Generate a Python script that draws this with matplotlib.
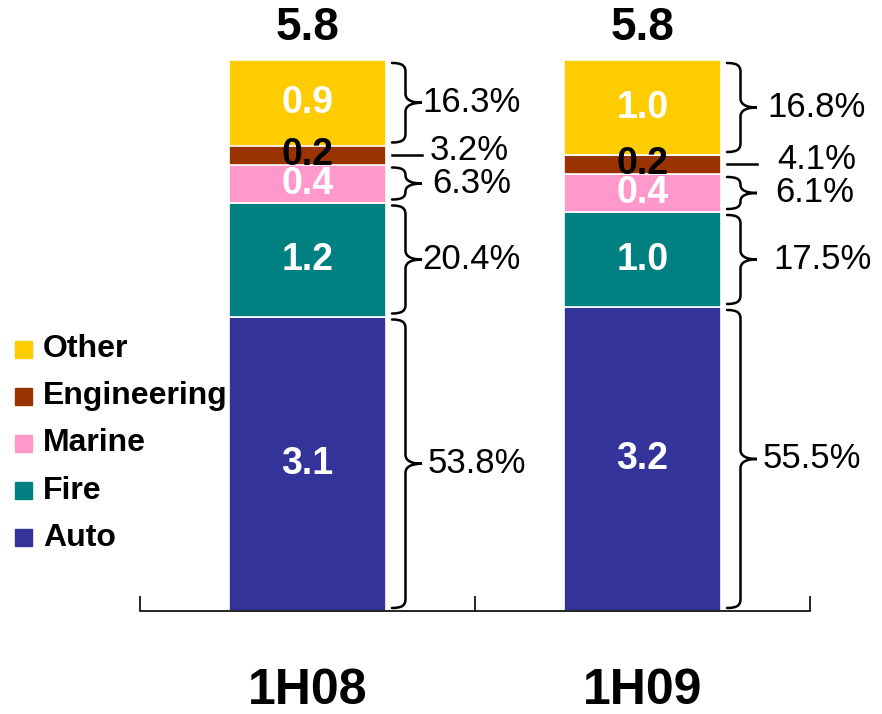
import matplotlib
matplotlib.use('Agg')
import matplotlib.pyplot as plt
from matplotlib.path import Path
from matplotlib.patches import PathPatch, Rectangle

plt.rcParams['font.family'] = ['Liberation Sans', 'DejaVu Sans']

# Gross premiums by line of business, two half-years
periods = ['1H08', '1H09']
segments = ['Auto', 'Fire', 'Marine', 'Engineering', 'Other']
auto = [3.1, 3.2]
fire = [1.2, 1.0]
marine = [0.4, 0.4]
engineering = [0.2, 0.2]
other = [0.9, 1.0]
auto_share = ['53.8%', '55.5%']
fire_share = ['20.4%', '17.5%']
marine_share = ['6.3%', '6.1%']
engineering_share = ['3.2%', '4.1%']
other_share = ['16.3%', '16.8%']

colors = ['#333399', '#008080', '#FF99CC', '#993300', '#FFCC00']
value_colors = ['white', 'white', 'white', 'black', 'white']
# extra gap (px) between brace tip and share label, per segment and period
label_gap = [[6, -4], [0, 6], [10, 8], [0, 0], [0, 0]]

W, H = 882, 714
fig = plt.figure(figsize=(W / 100, H / 100), dpi=100)
ax = fig.add_axes([140 / W, 103 / H, 670 / W, 608 / H])
ax.set_xlim(-0.5, 1.5)
ax.set_ylim(0, 6.4)
# pixels per data unit
sx = 670 / 2.0
sy = 608 / 6.4

stacks = [auto, fire, marine, engineering, other]
shares = [auto_share, fire_share, marine_share, engineering_share, other_share]
bar_w = 157 / sx


def brace(x_left, y0, y1, width):
    """Right-pointing curly brace between y0 and y1 (data units)."""
    xs = x_left + width * 0.45
    xt = x_left + width
    r = min(9 / sy, (y1 - y0) / 4)
    ym = (y0 + y1) / 2
    hx = x_left + (xs - x_left) * 0.75
    verts = [(x_left, y1),
             (hx, y1), (xs, y1 - r * 0.3), (xs, y1 - r),
             (xs, ym + r),
             (xs, ym + r * 0.3), (xs + (xt - xs) * 0.4, ym), (xt, ym),
             (xs + (xt - xs) * 0.4, ym), (xs, ym - r * 0.3), (xs, ym - r),
             (xs, y0 + r),
             (xs, y0 + r * 0.3), (hx, y0), (x_left, y0)]
    codes = [Path.MOVETO,
             Path.CURVE4, Path.CURVE4, Path.CURVE4,
             Path.LINETO,
             Path.CURVE4, Path.CURVE4, Path.CURVE4,
             Path.CURVE4, Path.CURVE4, Path.CURVE4,
             Path.LINETO,
             Path.CURVE4, Path.CURVE4, Path.CURVE4]
    ax.add_patch(PathPatch(Path(verts, codes), fill=False, lw=1.8,
                           edgecolor='black', capstyle='round', clip_on=False))


x = [0, 1]
bottoms = [0.0, 0.0]
for k, (name, vals) in enumerate(zip(segments, stacks)):
    ax.bar(x, vals, bar_w, bottom=bottoms, color=colors[k],
           edgecolor='white', linewidth=1.2, zorder=2)
    for i in x:
        y0 = bottoms[i]
        y1 = y0 + vals[i]
        ym = (y0 + y1) / 2
        ax.text(i, ym, f'{vals[i]:.1f}', ha='center', va='center',
                fontsize=27, fontweight='bold', color=value_colors[k], zorder=4)
        xr = i + bar_w / 2
        if name == 'Engineering':
            ax.plot([xr + 6 / sx, xr + 36 / sx], [ym, ym], color='black',
                    lw=1.8, clip_on=False)
            ax.text(xr + 44 / sx + i * 12 / sx, ym + 5 / sy, shares[k][i],
                    ha='left', va='center', fontsize=25)
        else:
            inset = 3 / sy
            brace(xr + 6 / sx, y0 + inset, y1 - inset, 30 / sx)
            ax.text(xr + (36 + label_gap[k][i]) / sx + i * 10 / sx, ym,
                    shares[k][i], ha='left', va='center', fontsize=25)
    bottoms = [b + v for b, v in zip(bottoms, vals)]

for i in x:
    ax.text(i, bottoms[i] + 10 / sy, f'{bottoms[i]:.1f}', ha='center',
            va='bottom', fontsize=33, fontweight='bold')

# axis: bottom line with category separators
for side in ['left', 'right', 'top']:
    ax.spines[side].set_visible(False)
ax.spines['bottom'].set_linewidth(1.2)
ax.set_yticks([])
ax.set_xticks([-0.5, 0.5, 1.5])
ax.set_xticklabels([])
ax.tick_params(axis='x', direction='in', length=11, width=1.2)
for i, p in enumerate(periods):
    ax.text(i, -80 / sy, p, ha='center', va='center', fontsize=36,
            fontweight='bold', clip_on=False)

# legend, top entry first
for j, k in enumerate(reversed(range(len(segments)))):
    yc = 349 + j * 47.2
    fig.patches.append(Rectangle((15 / W, 1 - (yc + 8.5) / H), 17 / W, 17 / H,
                                 transform=fig.transFigure, color=colors[k]))
    fig.text(43 / W, 1 - yc / H, segments[k], ha='left', va='center',
             fontsize=23, fontweight='bold')

fig.savefig('out.png', dpi=100)
